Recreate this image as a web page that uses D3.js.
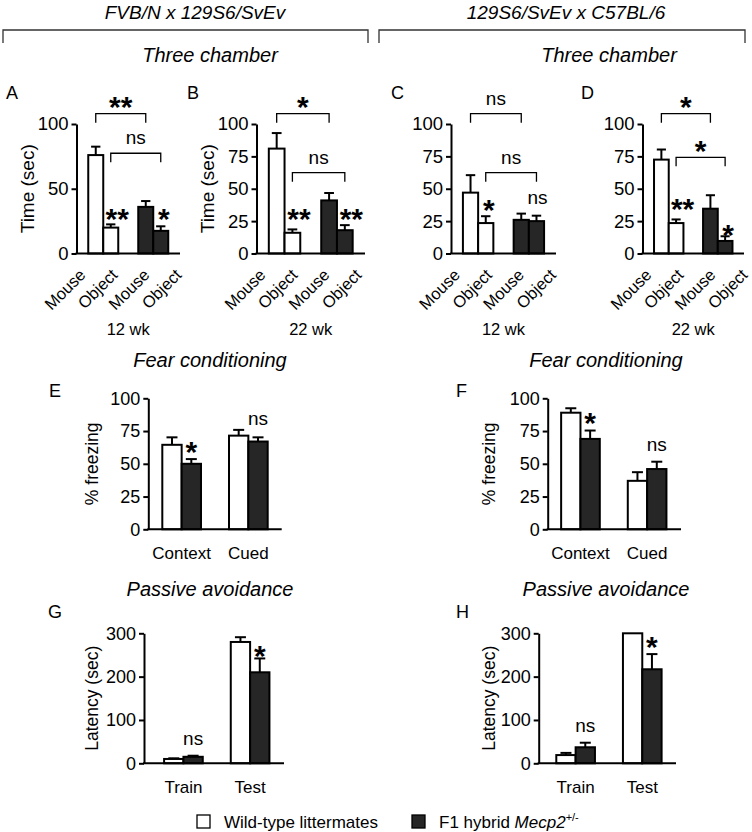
<!DOCTYPE html>
<html><head><meta charset="utf-8">
<script src="https://cdn.jsdelivr.net/npm/d3@7"></script>
<style>
body{margin:0;background:#fff}
svg{display:block}
text{font-family:"Liberation Sans", Arial, Helvetica, sans-serif; fill:#000}
</style>
</head><body>
<svg id="c" width="752" height="832"></svg>
<script>
// ================= DATA =================
const strainTitles = ["FVB/N x 129S6/SvEv", "129S6/SvEv x C57BL/6"];
const sectionTitles = ["Three chamber", "Fear conditioning", "Passive avoidance"];
const panelLetters = ["A","B","C","D","E","F","G","H"];
const genotypes = ["WT", "Het"];
const legendLabels = ["Wild-type littermates", "F1 hybrid "];
const legendGene = "Mecp2";
const legendAllele = "+/-";

const chamberTargets = ["Mouse","Object"];
const chamberAges = ["12 wk","22 wk","12 wk","22 wk"];
const chamberTicksA = [0,50,100];
const chamberTicks = [0,25,50,75,100];
const chamberYLabel = "Time (sec)";

// order: WT-Mouse, WT-Object, Het-Mouse, Het-Object
const chamberA_mean = [76, 20, 36, 17.5];
const chamberA_sem  = [6.5, 2.5, 4.5, 3.5];
const chamberB_mean = [81, 16, 41, 18];
const chamberB_sem  = [12, 2.6, 5.7, 3.9];
const chamberC_mean = [47, 23.5, 26, 25];
const chamberC_sem  = [13.5, 5.3, 4.8, 4.2];
const chamberD_mean = [72.5, 23.5, 34.6, 9.7];
const chamberD_sem  = [7.8, 2.8, 10.4, 3.6];

const fearConditions = ["Context","Cued"];
const fearTicks = [0,25,50,75,100];
const fearYLabel = "% freezing";
// per condition [Context, Cued]
const fearE_wt = [64.5, 71.5], fearE_wt_sem = [5.7, 4.4];
const fearE_het = [50, 67],    fearE_het_sem = [3.6, 3.2];
const fearF_wt = [89, 37],     fearF_wt_sem = [3.4, 6.6];
const fearF_het = [69, 46],    fearF_het_sem = [6.4, 5.6];

const avoidPhases = ["Train","Test"];
const avoidTicks = [0,100,200,300];
const avoidYLabel = "Latency (sec)";
const avoidG_wt = [10, 280],  avoidG_wt_sem = [1.5, 11];
const avoidG_het = [15, 210], avoidG_het_sem = [2.5, 32];
const avoidH_wt = [19, 300],  avoidH_wt_sem = [5, 0];
const avoidH_het = [37, 217], avoidH_het_sem = [10.5, 35];

// significance brackets: [label, barFrom, barTo, level]
const bracketsA = [["**",0,2,108],["ns",1,3,77.4]];
const bracketsB = [["*",0,2,108],["ns",1,3,62.4]];
const bracketsC = [["ns",0,2,108],["ns",1,3,62.4]];
const bracketsD = [["*",0,2,108],["*",1,3,74.3]];
// per-bar marks: [label, bar, level]
const marksA = [["**",1,32.3],["*",3,32.3]];
const marksB = [["**",1,32.3],["**",3,32.3]];
const marksC = [["*",1,39.2],["ns",3,42]];
const marksD = [["**",1,40],["*",3,19.7]];
const marksE = [["*",1,65],["ns",3,83.4]];
const marksF = [["*",1,86.6],["ns",3,63.6]];
const marksG = [["*",3,265],["ns",1,53.8]];
const marksH = [["*",3,284.5],["ns",1,84.5]];

// ================= DRAW =================
const svg = d3.select("#c");
const DARK = "#262626";
const fillFor = g => g === "WT" ? "#ffffff" : DARK;

function starOrText(g, label, x, cy, opts={}) {
  const isStar = label.indexOf("*") >= 0;
  const fs = isStar ? 30 : 19;
  g.append("text")
    .attr("x", x)
    .attr("y", cy + (isStar ? 0.58*fs : 0.27*fs))
    .attr("text-anchor", "middle")
    .style("font-size", fs + "px")
    .style("font-weight", isStar ? "bold" : "normal")
    .text(label);
}

function drawPanel(cfg) {
  const g = svg.append("g");
  const y = d3.scaleLinear().domain([0, cfg.max]).range([cfg.yBot, cfg.yTop]);
  const outer = d3.scaleBand().domain(cfg.outer).range([cfg.x0, cfg.x1])
    .paddingInner(cfg.pIn).paddingOuter(cfg.pOut).align(cfg.align);
  const inner = d3.scaleBand().domain(cfg.inner).range([0, outer.bandwidth()]).padding(0);
  const bw = inner.bandwidth();
  const bars = cfg.bars.map(b => ({...b, x: outer(b.o) + inner(b.i), cx: outer(b.o) + inner(b.i) + bw/2}));

  // error bars (up only)
  const cap = Math.min(bw*0.62, 11);
  bars.forEach(b => {
    if (b.sem > 0) {
      g.append("line").attr("x1", b.cx).attr("x2", b.cx)
        .attr("y1", y(b.mean)).attr("y2", y(b.mean + b.sem))
        .attr("stroke", "#000").attr("stroke-width", 2);
      g.append("line").attr("x1", b.cx - cap/2).attr("x2", b.cx + cap/2)
        .attr("y1", y(b.mean + b.sem)).attr("y2", y(b.mean + b.sem))
        .attr("stroke", "#000").attr("stroke-width", 2);
    }
  });
  // bars
  g.selectAll("rect.bar").data(bars).join("rect")
    .attr("x", d => d.x).attr("width", bw)
    .attr("y", d => y(d.mean)).attr("height", d => y(0) - y(d.mean))
    .attr("fill", d => d.fill).attr("stroke", "#000").attr("stroke-width", 2);

  // y axis
  const ax = g.append("g").attr("transform", `translate(${cfg.x0},0)`)
    .call(d3.axisLeft(y).tickValues(cfg.ticks).tickSize(5).tickSizeOuter(0).tickPadding(3));
  ax.select(".domain").attr("stroke-width", 2).attr("stroke", "#000");
  ax.selectAll(".tick line").attr("stroke-width", 2).attr("stroke", "#000");
  ax.selectAll(".tick text").style("font-size", cfg.tickFs + "px")
    .style("font-family", '"Liberation Sans", Arial, sans-serif').attr("fill", "#000");
  // x baseline
  g.append("line").attr("x1", cfg.x0 - 1).attr("x2", cfg.x1)
    .attr("y1", cfg.yBot).attr("y2", cfg.yBot).attr("stroke", "#000").attr("stroke-width", 2);

  // y label
  if (cfg.ylabel) {
    g.append("text").attr("transform", `translate(${cfg.x0 - cfg.ylabOff},${(cfg.yTop + cfg.yBot)/2}) rotate(-90)`)
      .attr("text-anchor", "middle").attr("dy", "0.35em")
      .style("font-size", cfg.ylabFs + "px").text(cfg.ylabel);
  }
  // panel letter
  g.append("text").attr("x", cfg.letterX).attr("y", cfg.letterY)
    .style("font-size", "18px").text(cfg.letter);

  // brackets
  (cfg.brackets || []).forEach(([lab, a, b, lev]) => {
    const yy = y(lev), xa = bars[a].cx, xb = bars[b].cx;
    g.append("path").attr("d", `M${xa},${yy + 9}V${yy}H${xb}V${yy + 9}`)
      .attr("fill", "none").attr("stroke", "#000").attr("stroke-width", 1.3);
    starOrText(g, lab, (xa + xb)/2, yy - 14);
  });
  // per-bar marks
  (cfg.marks || []).forEach(([lab, i, lev]) => {
    const dx = cfg.markShift ? (lab === "**" ? 6.5 : (lab === "*" ? 3 : 1)) : 0;
    starOrText(g, lab, bars[i].cx + dx, y(lev));
  });
  return {g, bars, outer, y};
}

function chamber(letter, mean, sem, x0, x1, ticks, ylabel, letterX, brackets, marks, age) {
  const bars = [];
  genotypes.forEach((gt, gi) => chamberTargets.forEach((t, ti) => {
    const k = gi*2 + ti;
    bars.push({o: gt, i: t, mean: mean[k], sem: sem[k], fill: fillFor(gt)});
  }));
  const p = drawPanel({letter, x0, x1, yTop: 124, yBot: 253.5, max: 100, ticks,
    outer: genotypes, inner: chamberTargets, pIn: 0.4, pOut: 0.235, align: 0.5,
    bars, tickFs: 18.5, ylabel, ylabOff: 49.5, ylabFs: 19, letterX, letterY: 98.5,
    brackets, marks, markShift: true});
  // rotated category labels
  const cats = [0,1,2,3];
  const lx = d3.scalePoint().domain(cats).range([x0 + 10, x0 + 106]);
  p.g.selectAll("text.cat").data(cats).join("text").attr("class", "cat")
    .attr("transform", d => `translate(${lx(d)},276) rotate(-45)`)
    .attr("text-anchor", "end").style("font-size", "16.5px")
    .text(d => chamberTargets[d % 2]);
  p.g.append("text").attr("x", (x0 + x1)/2).attr("y", 335).attr("text-anchor", "middle")
    .style("font-size", "16.5px").text(age);
}

chamber("A", chamberA_mean, chamberA_sem, 76.5, 180, chamberTicksA, chamberYLabel, 6, bracketsA, marksA, chamberAges[0]);
chamber("B", chamberB_mean, chamberB_sem, 256.5, 365, chamberTicks, chamberYLabel, 187, bracketsB, marksB, chamberAges[1]);
chamber("C", chamberC_mean, chamberC_sem, 451, 556, chamberTicks, null, 391, bracketsC, marksC, chamberAges[2]);
chamber("D", chamberD_mean, chamberD_sem, 642.5, 744, chamberTicks, null, 581, bracketsD, marksD, chamberAges[3]);

function grouped(letter, conds, wt, wtSem, het, hetSem, cfg) {
  const bars = [];
  conds.forEach((c, ci) => {
    bars.push({o: c, i: "WT", mean: wt[ci], sem: wtSem[ci], fill: fillFor("WT")});
    bars.push({o: c, i: "Het", mean: het[ci], sem: hetSem[ci], fill: fillFor("Het")});
  });
  const p = drawPanel(Object.assign({letter, outer: conds, inner: genotypes, pIn: 0.42, bars,
    tickFs: 18, ylabFs: 17.5}, cfg));
  p.g.selectAll("text.cond").data(conds).join("text").attr("class", "cond")
    .attr("x", d => p.outer(d) + p.outer.bandwidth()/2).attr("y", cfg.catY)
    .attr("text-anchor", "middle").style("font-size", "17px").text(d => d);
}

grouped("E", fearConditions, fearE_wt, fearE_wt_sem, fearE_het, fearE_het_sem,
  {x0: 148.3, x1: 281.7, yTop: 398.3, yBot: 529.3, max: 100, ticks: fearTicks, pOut: 0.21, align: 0.5,
   ylabel: fearYLabel, ylabOff: 56.6, letterX: 49, letterY: 396.5, marks: marksE, catY: 559});
grouped("F", fearConditions, fearF_wt, fearF_wt_sem, fearF_het, fearF_het_sem,
  {x0: 547.7, x1: 681, yTop: 398.3, yBot: 529.3, max: 100, ticks: fearTicks, pOut: 0.21, align: 0.48,
   ylabel: fearYLabel, ylabOff: 58.4, letterX: 456, letterY: 396.5, marks: marksF, catY: 559});
grouped("G", avoidPhases, avoidG_wt, avoidG_wt_sem, avoidG_het, avoidG_het_sem,
  {x0: 144, x1: 284, yTop: 633.3, yBot: 763.3, max: 300, ticks: avoidTicks, pOut: 0.26, align: 0.58,
   ylabel: avoidYLabel, ylabOff: 51.7, letterX: 48, letterY: 618, marks: marksG, catY: 792.5});
grouped("H", avoidPhases, avoidH_wt, avoidH_wt_sem, avoidH_het, avoidH_het_sem,
  {x0: 538.7, x1: 676, yTop: 633.3, yBot: 763.3, max: 300, ticks: avoidTicks, pOut: 0.24, align: 0.55,
   ylabel: avoidYLabel, ylabOff: 49.4, letterX: 456, letterY: 618, marks: marksH, catY: 792.5});

// ---- headers ----
const halves = [{cx: 195, l: 3, r: 368, sx: 210}, {cx: 566, l: 379, r: 745, sx: 609}];
halves.forEach((h, i) => {
  svg.append("text").attr("x", h.cx).attr("y", 18.5).attr("text-anchor", "middle")
    .style("font-size", "19px").style("font-style", "italic").text(strainTitles[i]);
  svg.append("path").attr("d", `M${h.l},43V30H${h.r}V43`).attr("fill", "none")
    .attr("stroke", "#333").attr("stroke-width", 1.3);
  svg.append("text").attr("x", h.sx).attr("y", 61.5).attr("text-anchor", "middle")
    .style("font-size", "20px").style("font-style", "italic").text(sectionTitles[0]);
});
[[210, 366.5], [606, 366.5]].forEach(([x, yy]) =>
  svg.append("text").attr("x", x).attr("y", yy).attr("text-anchor", "middle")
    .style("font-size", "20px").style("font-style", "italic").text(sectionTitles[1]));
[[210, 595.5], [606, 595.5]].forEach(([x, yy]) =>
  svg.append("text").attr("x", x).attr("y", yy).attr("text-anchor", "middle")
    .style("font-size", "20px").style("font-style", "italic").text(sectionTitles[2]));

// ---- legend ----
const leg = svg.append("g");
leg.append("rect").attr("x", 197).attr("y", 815).attr("width", 13).attr("height", 13)
  .attr("fill", fillFor("WT")).attr("stroke", "#000").attr("stroke-width", 1.3);
leg.append("text").attr("x", 224).attr("y", 827.5).style("font-size", "17px").text(legendLabels[0]);
leg.append("rect").attr("x", 412).attr("y", 815).attr("width", 13).attr("height", 13)
  .attr("fill", fillFor("Het")).attr("stroke", "#000").attr("stroke-width", 1.3);
const t2 = leg.append("text").attr("x", 439).attr("y", 827.5).style("font-size", "17px");
t2.append("tspan").text(legendLabels[1]);
t2.append("tspan").style("font-style", "italic").text(legendGene);
t2.append("tspan").attr("dy", -7).style("font-size", "11px").text(legendAllele);
</script>
</body></html>
